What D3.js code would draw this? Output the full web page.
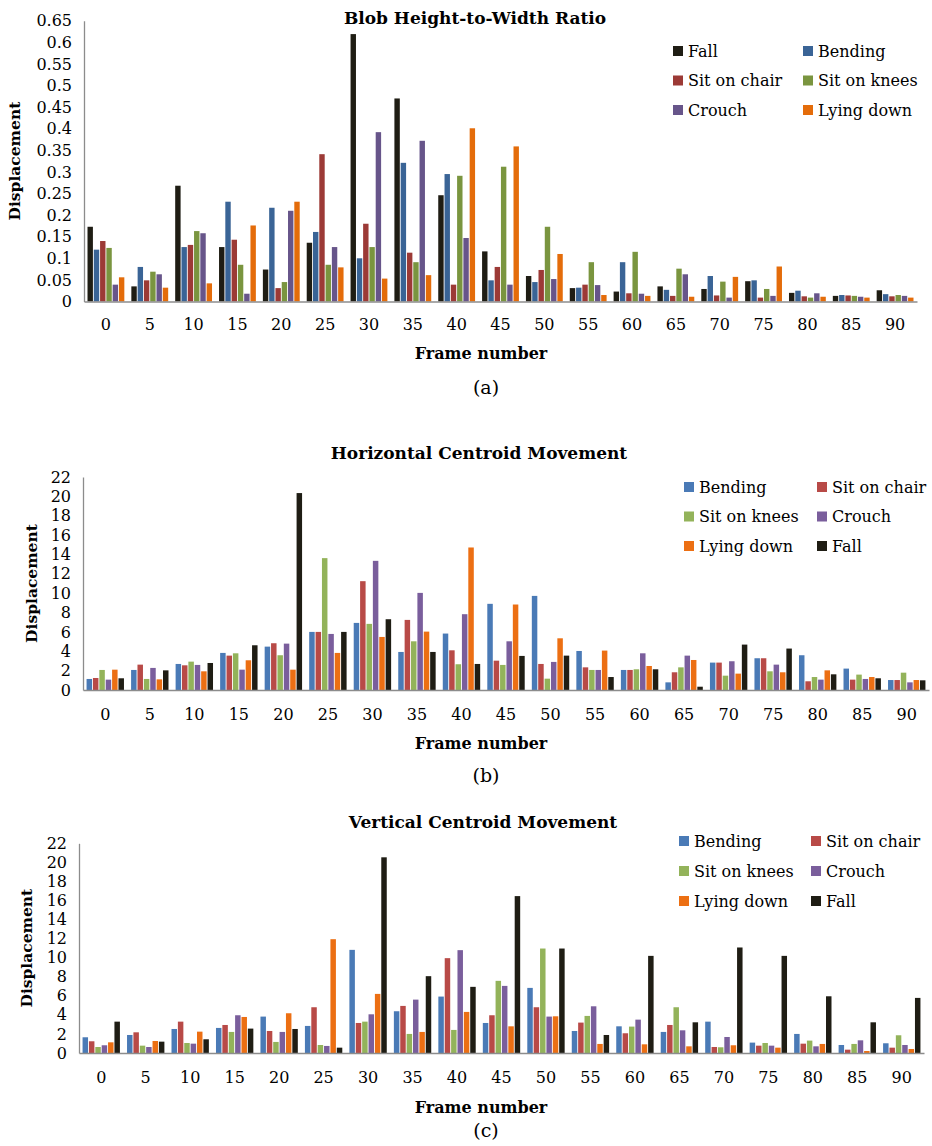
<!DOCTYPE html>
<html>
<head>
<meta charset="utf-8">
<script src="https://cdn.jsdelivr.net/npm/d3@7"></script>
<style>
  body { margin: 0; background: #fff; }
  svg text { font-family: "DejaVu Serif", serif; fill: #000; }
</style>
</head>
<body>
<svg id="chart"></svg>
<script>
// frame numbers shared by all three charts
const frames = [0, 5, 10, 15, 20, 25, 30, 35, 40, 45, 50, 55, 60, 65, 70, 75, 80, 85, 90];

// (a) blob height-to-width ratio
const ratioSeries = ['Fall', 'Bending', 'Sit on chair', 'Sit on knees', 'Crouch', 'Lying down'];
const ratioFall    = [0.173, 0.035, 0.268, 0.126, 0.074, 0.136, 0.619, 0.470, 0.246, 0.116, 0.059, 0.031, 0.023, 0.035, 0.029, 0.047, 0.020, 0.013, 0.026];
const ratioBending = [0.120, 0.080, 0.126, 0.231, 0.217, 0.161, 0.100, 0.321, 0.295, 0.049, 0.045, 0.032, 0.091, 0.027, 0.059, 0.049, 0.025, 0.015, 0.017];
const ratioChair   = [0.140, 0.049, 0.131, 0.143, 0.031, 0.341, 0.180, 0.113, 0.039, 0.080, 0.073, 0.039, 0.019, 0.013, 0.014, 0.009, 0.012, 0.014, 0.012];
const ratioKnees   = [0.124, 0.069, 0.163, 0.085, 0.045, 0.085, 0.126, 0.091, 0.291, 0.312, 0.173, 0.091, 0.115, 0.076, 0.046, 0.029, 0.009, 0.013, 0.015];
const ratioCrouch  = [0.039, 0.063, 0.158, 0.018, 0.210, 0.126, 0.392, 0.372, 0.147, 0.039, 0.052, 0.038, 0.018, 0.063, 0.009, 0.013, 0.019, 0.011, 0.013];
const ratioLying   = [0.056, 0.032, 0.042, 0.176, 0.231, 0.079, 0.053, 0.061, 0.401, 0.359, 0.110, 0.015, 0.013, 0.011, 0.057, 0.081, 0.011, 0.009, 0.009];
const ratioTicks   = [0, 0.05, 0.1, 0.15, 0.2, 0.25, 0.3, 0.35, 0.4, 0.45, 0.5, 0.55, 0.6, 0.65];

// (b) horizontal centroid movement
const centroidSeries = ['Bending', 'Sit on chair', 'Sit on knees', 'Crouch', 'Lying down', 'Fall'];
const horBending = [1.14, 2.07, 2.69, 3.83, 4.48, 6.00, 6.93, 3.93, 5.83, 8.90, 9.72, 4.03, 2.07, 0.79, 2.83, 3.28, 3.59, 2.21, 1.03];
const horChair   = [1.24, 2.62, 2.55, 3.55, 4.83, 6.00, 11.24, 7.24, 4.10, 3.03, 2.69, 2.34, 2.07, 1.83, 2.83, 3.28, 0.90, 1.07, 1.03];
const horKnees   = [2.07, 1.14, 2.93, 3.79, 3.59, 13.62, 6.83, 5.03, 2.66, 2.59, 1.17, 2.07, 2.14, 2.34, 1.48, 1.93, 1.34, 1.59, 1.79];
const horCrouch  = [1.07, 2.28, 2.59, 2.10, 4.79, 5.79, 13.34, 10.03, 7.83, 5.03, 2.90, 2.07, 3.79, 3.55, 2.97, 2.62, 1.07, 1.14, 0.79];
const horLying   = [2.10, 1.10, 1.93, 3.07, 2.10, 3.83, 5.48, 6.03, 14.72, 8.83, 5.34, 4.07, 2.48, 3.10, 1.69, 1.83, 2.03, 1.34, 1.03];
const horFall    = [1.21, 2.03, 2.79, 4.62, 20.34, 6.00, 7.31, 3.93, 2.69, 3.52, 3.55, 1.34, 2.14, 0.34, 4.69, 4.28, 1.62, 1.21, 1.00];

// (c) vertical centroid movement
const verBending = [1.65, 1.89, 2.52, 2.63, 3.82, 2.84, 10.82, 4.38, 5.92, 3.15, 6.83, 2.31, 2.80, 2.21, 3.29, 1.09, 2.00, 0.84, 1.02];
const verChair   = [1.23, 2.17, 3.29, 2.94, 2.31, 4.80, 3.15, 4.94, 9.95, 3.96, 4.80, 3.19, 2.07, 2.94, 0.63, 0.77, 0.98, 0.35, 0.56];
const verKnees   = [0.63, 0.77, 1.05, 2.21, 1.16, 0.84, 3.29, 2.00, 2.42, 7.57, 10.96, 3.89, 2.77, 4.80, 0.60, 1.05, 1.30, 0.95, 1.86];
const verCrouch  = [0.81, 0.63, 0.98, 3.96, 2.21, 0.74, 4.06, 5.60, 10.79, 7.04, 3.82, 4.90, 3.50, 2.38, 1.68, 0.77, 0.70, 1.33, 0.84];
const verLying   = [1.12, 1.26, 2.24, 3.78, 4.17, 11.94, 6.20, 2.21, 4.31, 2.80, 3.85, 0.95, 0.91, 0.70, 0.81, 0.56, 0.95, 0.21, 0.42];
const verFall    = [3.29, 1.19, 1.44, 2.56, 2.52, 0.56, 20.53, 8.06, 6.94, 16.46, 10.96, 1.89, 10.19, 3.22, 11.07, 10.19, 5.95, 3.22, 5.78];

const centroidTicks = [0, 2, 4, 6, 8, 10, 12, 14, 16, 18, 20, 22];

const W = 932, H = 1146;
const svg = d3.select('#chart').attr('width', W).attr('height', H);

const panels = [
  {
    title: 'Blob Height-to-Width Ratio', tag: '(a)',
    series: ratioSeries,
    values: [ratioFall, ratioBending, ratioChair, ratioKnees, ratioCrouch, ratioLying],
    colors: ['#1f1d14', '#3a6496', '#9c3a36', '#7a953f', '#67558a', '#e46c0a'],
    ticks: ratioTicks, domain: [0, 0.65],
    x0: 84, x1: 917, yBottom: 301.5, yTop: 20.7,
    titleY: 18, titleX: 475, yLabelX: 15,
    tickPad: 17, frameY: 353, tagY: 387,
    legend: { x: [678, 808], y0: 51, dy: 29.5 }
  },
  {
    title: 'Horizontal Centroid Movement', tag: '(b)',
    series: centroidSeries,
    values: [horBending, horChair, horKnees, horCrouch, horLying, horFall],
    colors: ['#4a7ab6', '#b84a47', '#93b35a', '#7a5e9c', '#ec6f13', '#1f1d14'],
    ticks: centroidTicks, domain: [0, 22],
    x0: 83, x1: 929, yBottom: 690, yTop: 477,
    titleY: 453, titleX: 479, yLabelX: 32,
    tickPad: 19, frameY: 743, tagY: 775,
    legend: { x: [689, 822], y0: 487, dy: 29.5 }
  },
  {
    title: 'Vertical Centroid Movement', tag: '(c)',
    series: centroidSeries,
    values: [verBending, verChair, verKnees, verCrouch, verLying, verFall],
    colors: ['#4a7ab6', '#b84a47', '#93b35a', '#7a5e9c', '#ec6f13', '#1f1d14'],
    ticks: centroidTicks, domain: [0, 22],
    x0: 79, x1: 924, yBottom: 1053, yTop: 843.3,
    titleY: 822, titleX: 483, yLabelX: 27,
    tickPad: 19, frameY: 1107, tagY: 1130,
    legend: { x: [684, 816], y0: 841, dy: 30 }
  }
];

panels.forEach(p => {
  const g = svg.append('g');

  const x = d3.scaleBand().domain(frames).range([p.x0, p.x1])
    .paddingInner(0.16).paddingOuter(0.08);
  const xs = d3.scaleBand().domain(p.series).range([0, x.bandwidth()]).paddingInner(0.14);
  const y = d3.scaleLinear().domain(p.domain).range([p.yBottom, p.yTop]);

  // bars
  p.series.forEach((name, si) => {
    g.append('g').selectAll('rect')
      .data(frames.map((f, i) => ({ frame: f, value: p.values[si][i] })))
      .join('rect')
      .attr('x', d => x(d.frame) + xs(name))
      .attr('y', d => y(d.value))
      .attr('width', xs.bandwidth())
      .attr('height', d => y(0) - y(d.value))
      .attr('fill', p.colors[si]);
  });

  // y axis
  const yAxis = g.append('g')
    .attr('transform', `translate(${p.x0},0)`)
    .call(d3.axisLeft(y).tickValues(p.ticks).tickSize(0).tickPadding(12)
      .tickFormat(d => String(+d.toFixed(2))));
  yAxis.select('.domain').attr('stroke', '#8c8c8c').attr('stroke-width', 1.3);
  yAxis.selectAll('text').attr('font-size', 16).attr('font-family', '"DejaVu Serif", serif');

  // x axis
  const xAxis = g.append('g')
    .attr('transform', `translate(0,${p.yBottom})`)
    .call(d3.axisBottom(x).tickSize(0).tickPadding(p.tickPad).tickSizeOuter(0));
  xAxis.select('.domain').attr('stroke', '#8c8c8c').attr('stroke-width', 1.3);
  xAxis.selectAll('text').attr('font-size', 16).attr('font-family', '"DejaVu Serif", serif');

  // titles
  g.append('text').attr('x', p.titleX).attr('y', p.titleY).attr('dy', '0.35em')
    .attr('text-anchor', 'middle').attr('font-weight', 'bold').attr('font-size', 17)
    .text(p.title);
  g.append('text')
    .attr('transform', `translate(${p.yLabelX},${(p.yTop + p.yBottom) / 2}) rotate(-90)`)
    .attr('dy', '0.35em').attr('text-anchor', 'middle')
    .attr('font-weight', 'bold').attr('font-size', 15.5)
    .text('Displacement');
  g.append('text').attr('x', 481).attr('y', p.frameY).attr('dy', '0.35em')
    .attr('text-anchor', 'middle').attr('font-weight', 'bold').attr('font-size', 16)
    .text('Frame number');
  g.append('text').attr('x', 486).attr('y', p.tagY).attr('dy', '0.35em')
    .attr('text-anchor', 'middle').attr('font-size', 19)
    .text(p.tag);

  // legend, two columns
  const lg = g.append('g');
  p.series.forEach((name, i) => {
    const cx = p.legend.x[i % 2];
    const cy = p.legend.y0 + Math.floor(i / 2) * p.legend.dy;
    lg.append('rect').attr('x', cx - 5).attr('y', cy - 5).attr('width', 10).attr('height', 10)
      .attr('fill', p.colors[i]);
    lg.append('text').attr('x', cx + 10).attr('y', cy).attr('dy', '0.35em')
      .attr('font-size', 16).text(name);
  });
});
</script>
</body>
</html>
